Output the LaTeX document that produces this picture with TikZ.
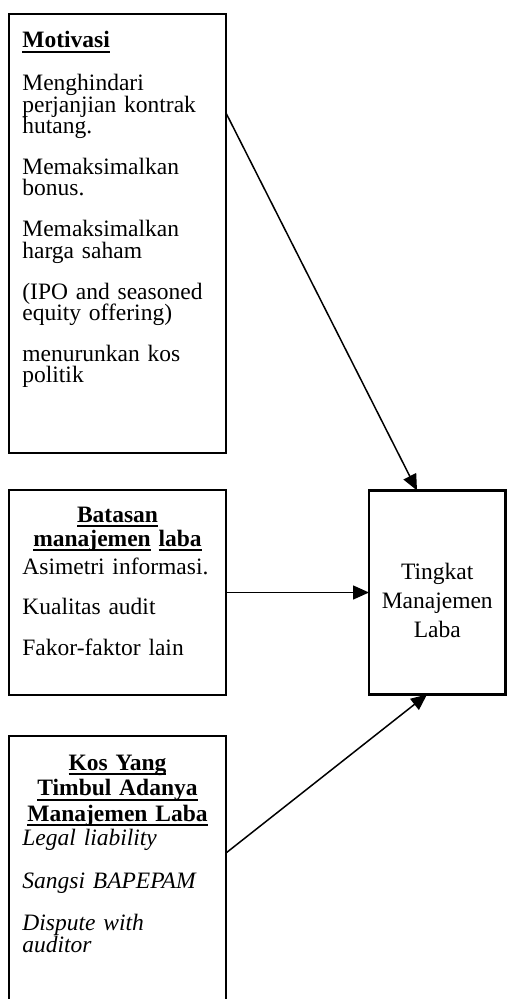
\documentclass[tikz,border=0pt]{standalone}
\usepackage{fontspec}
\setmainfont{Liberation Serif}
\usetikzlibrary{positioning, arrows.meta}

% underline with a fixed position below the baseline
\newcommand{\ulword}[1]{\leavevmode\setbox0=\hbox{#1}\rlap{\rule[-2.6pt]{\wd0}{0.9pt}}\box0\relax}

\begin{document}
\begin{tikzpicture}[x=0.5pt, y=-0.5pt,
        box/.style={rectangle, draw, line width=1.1pt, inner sep=0pt, outer sep=0pt, minimum width=108.5pt},
        bodytext/.style={anchor=base west, inner sep=0pt, text width=100pt, align=left, font={\fontsize{11.75}{10.6}\selectfont\lineskiplimit=-20pt}},
        titletext/.style={anchor=base, inner sep=0pt, text width=104pt, align=center, font={\fontsize{11.75}{12}\selectfont\bfseries\lineskiplimit=-20pt}},
        arrowline/.style={draw, line width=0.75pt, -{Triangle[length=8pt, width=7pt]}}]
    \useasboundingbox (0,0) rectangle (507,999);

    % boxes
    \node [box, anchor=north west, minimum height=219.5pt] (motivasi) at (9,14) {};
    \node [box, below=18.5pt of motivasi, minimum height=102.5pt] (batasan) {};
    \node [box, below=20.5pt of batasan, minimum height=137pt] (kos) {};
    \node [box, right=71.5pt of batasan, minimum width=68.25pt, minimum height=102pt] (tingkat) {};

    % texts
    \node [bodytext, font={\fontsize{11.75}{12}\selectfont\bfseries}] (motivasititle) at (22,48) {\ulword{Motivasi}};
    \node [bodytext] (motivasibody) at (22,91) {Menghindari\\perjanjian kontrak\\hutang.\\[10pt]
        Memaksimalkan\\bonus.\\[10pt]Memaksimalkan\\harga saham\\[10pt]
        (IPO and seasoned\\equity offering)\\[10pt]menurunkan kos\\politik};
    \node [titletext] (batasantitle) at (117.5,522) {\ulword{Batasan}\\\ulword{manajemen} \ulword{laba}};
    \node [bodytext] (batasanbody) at (22,574) {Asimetri informasi.\\[9.7pt]Kualitas audit\\[9.7pt]Fakor-faktor lain};
    \node [titletext, font={\fontsize{11.75}{12.75}\selectfont\bfseries\lineskiplimit=-20pt}] (kostitle) at (117.5,770)
        {\ulword{Kos Yang}\\\ulword{Timbul Adanya}\\\ulword{Manajemen Laba}};
    \node [bodytext, font={\fontsize{11.75}{11}\selectfont\itshape\lineskiplimit=-20pt}] (kosbody) at (22,845)
        {Legal liability\\[10.5pt]Sangsi BAPEPAM\\[10pt]Dispute with\\auditor};
    \node [anchor=base, inner sep=0pt, text width=66pt, align=center, font={\fontsize{11.75}{14.5}\selectfont}] (tingkatlabel)
        at ([yshift=6.75pt]tingkat.center) {Tingkat\\Manajemen\\Laba};

    % connectors
    \path [arrowline] ([yshift=-49.5pt]motivasi.north east) -- ([xshift=24pt]tingkat.north west);
    \path [arrowline] (batasan.east) -- (tingkat.west);
    \path [arrowline] ([yshift=-58.5pt]kos.north east) -- ([xshift=29pt]tingkat.south west);
\end{tikzpicture}
\end{document}
